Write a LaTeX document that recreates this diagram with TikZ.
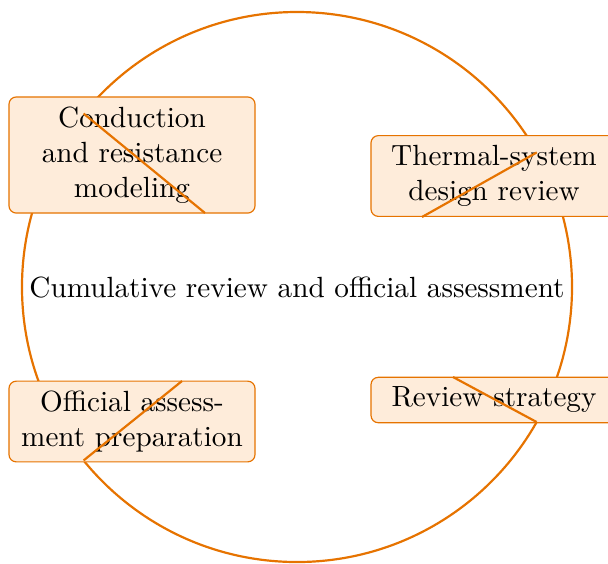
\documentclass[tikz,border=0pt]{standalone}
\usetikzlibrary{calc}
\definecolor{ringorange}{RGB}{230,115,0}
\definecolor{boxfill}{RGB}{254,236,218}
\begin{document}
\begin{tikzpicture}[x=0.3425pt,y=-0.3425pt,
  stage/.style={draw=ringorange, line width=0.4pt, fill=boxfill, rounded corners=2.5pt,
    text width=77.6pt, align=center, minimum width=84.26pt, inner sep=3.33pt},
  ring/.style={draw=ringorange, line width=0.75pt}]
\useasboundingbox (0,0) rectangle (608,563);
\coordinate (c) at (297,287);
\draw[ring] (c) circle[radius=94.19pt];
\node[stage] (n1) at (132,155) {Conduction\\and resistance\\modeling};
\node[stage] (n2) at (494,176) {Thermal-system\\design review};
\node[stage] (n3) at (132,421.5) {Official assess-\\ment preparation};
\node[stage] (n4) at (494,400) {Review strategy};
\node (mid) at (297,288) {Cumulative review and official assessment};
\coordinate (p1) at ($(c)+(140.9:94.19pt)$);
\coordinate (q1) at (205,213);
\coordinate (p2) at ($(c)+(29.3:94.19pt)$);
\coordinate (q2) at (422,217);
\coordinate (p3) at ($(c)+(219.1:94.19pt)$);
\coordinate (q3) at (182,381);
\coordinate (p4) at ($(c)+(-29.4:94.19pt)$);
\coordinate (q4) at (453,377);
\draw[ring] (p1) -- (q1);
\draw[ring] (p2) -- (q2);
\draw[ring] (p3) -- (q3);
\draw[ring] (p4) -- (q4);
\end{tikzpicture}
\end{document}
